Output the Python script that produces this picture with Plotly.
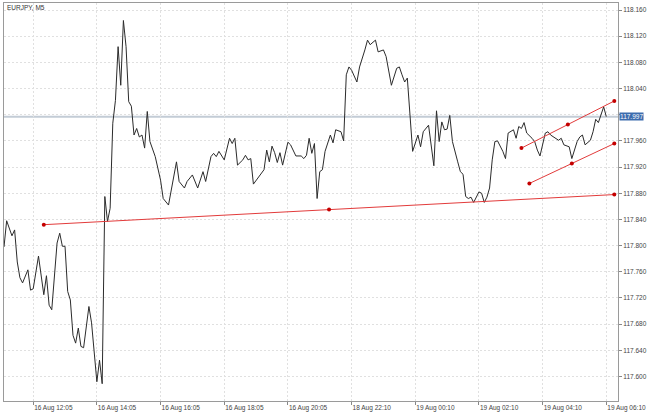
import plotly.graph_objects as go

# ---- data (bar index on MT4 ordinal time axis, close price) ----
bar = [0, 1, 3, 4, 5, 6, 7, 9, 10, 11, 13, 15, 16, 17, 18, 20, 21, 22, 23, 24,
       25, 26, 27, 28, 29, 30, 32, 33, 35, 36, 37, 38, 39, 40, 41, 42, 43, 44, 45, 46,
       47, 48, 49, 50, 51, 52, 53, 54, 55, 57, 59, 60, 62, 64, 65, 66, 68, 69, 70, 71,
       73, 75, 76, 78, 79, 80, 81, 83, 85, 86, 87, 88, 90, 91, 92, 93, 94, 96, 98, 99,
       100, 101, 102, 103, 104, 105, 107, 108, 110, 112, 113, 114, 115, 116, 117, 118, 119, 120, 121, 123,
       124, 125, 127, 128, 129, 130, 131, 133, 134, 136, 137, 138, 139, 140, 141, 143, 144, 146, 148, 149,
       150, 151, 152, 153, 154, 156, 157, 158, 160, 162, 163, 164, 165, 166, 167, 168, 169, 171, 172, 173,
       174, 175, 176, 177, 179, 180, 181, 182, 183, 184, 185, 186, 188, 189, 190, 192, 193, 194, 195, 196,
       197, 199, 200, 201, 202, 204, 205, 206, 207, 209, 210, 211, 213, 214, 216, 217, 218, 219, 221, 222,
       223, 224, 226, 227]
close = [117.798, 117.838, 117.815, 117.824, 117.775, 117.751, 117.743, 117.763, 117.732, 117.734,
         117.784, 117.725, 117.754, 117.709, 117.702, 117.804, 117.819, 117.799, 117.799, 117.730,
         117.717, 117.663, 117.651, 117.674, 117.646, 117.644, 117.707, 117.682, 117.592, 117.625,
         117.589, 117.875, 117.837, 117.857, 117.987, 118.022, 118.104, 118.045, 118.144, 118.104,
         118.020, 118.013, 117.969, 117.979, 117.966, 117.969, 117.949, 118.005, 117.959, 117.936,
         117.900, 117.872, 117.862, 117.903, 117.928, 117.898, 117.888, 117.898, 117.903, 117.908,
         117.888, 117.913, 117.898, 117.936, 117.941, 117.936, 117.944, 117.931, 117.964, 117.956,
         117.964, 117.923, 117.931, 117.938, 117.931, 117.933, 117.894, 117.905, 117.916, 117.946,
         117.928, 117.952, 117.942, 117.927, 117.942, 117.923, 117.958, 117.954, 117.937, 117.937,
         117.933, 117.938, 117.964, 117.941, 117.956, 117.872, 117.913, 117.916, 117.944, 117.969,
         117.957, 117.977, 117.974, 117.960, 118.061, 118.073, 118.068, 118.050, 118.073, 118.099,
         118.114, 118.107, 118.110, 118.114, 118.096, 118.099, 118.089, 118.045, 118.071, 118.073,
         118.061, 118.050, 118.056, 117.996, 117.944, 117.969, 117.951, 117.974, 117.984, 117.922,
         118.006, 117.959, 117.989, 117.977, 117.978, 117.999, 117.959, 117.928, 117.913, 117.909,
         117.875, 117.872, 117.874, 117.866, 117.882, 117.880, 117.866, 117.874, 117.888, 117.931,
         117.959, 117.960, 117.944, 117.933, 117.972, 117.977, 117.964, 117.982, 117.979, 117.988,
         117.972, 117.964, 117.959, 117.946, 117.937, 117.972, 117.974, 117.969, 117.966, 117.961,
         117.964, 117.954, 117.951, 117.933, 117.959, 117.966, 117.969, 117.954, 117.961, 117.974,
         117.993, 117.988, 118.012, 117.997]

last_price = 117.997

# trend lines: (start bar, end bar) and (start price, end price)
trend_bars = [[15, 230], [195, 230], [198, 230]]
trend_prices = [[117.832, 117.878], [117.949, 118.021], [117.895, 117.956]]

tick_bars = [11, 35, 59, 83, 107, 131, 155, 179, 203, 227]
tick_labels = ["16 Aug 12:05", "16 Aug 14:05", "16 Aug 16:05", "16 Aug 18:05",
               "16 Aug 20:05", "18 Aug 22:10", "19 Aug 00:10", "19 Aug 02:10",
               "19 Aug 04:10", "19 Aug 06:10"]

price_ticks = [117.600, 117.640, 117.680, 117.720, 117.760, 117.800, 117.840, 117.880,
               117.920, 117.960, 118.000, 118.040, 118.080, 118.120, 118.160]
price_tick_labels = ["117.600", "117.640", "117.680", "117.720", "117.760", "117.800",
                     "117.840", "117.880", "117.920", "117.960", "", "118.040",
                     "118.080", "118.120", "118.160"]

FONT = "Liberation Sans, Arial, sans-serif"
RED = "#e23b3b"
DOT = "#c40000"

fig = go.Figure()

fig.add_hline(y=last_price, line=dict(color="#c3ccd6", width=2), layer="below")

fig.add_trace(go.Scatter(x=bar, y=close, mode="lines",
                         line=dict(color="#2b2b2b", width=1), hoverinfo="skip",
                         showlegend=False))

for bx, py in zip(trend_bars, trend_prices):
    mid_b = (bx[0] + bx[1]) / 2
    mid_p = (py[0] + py[1]) / 2
    fig.add_trace(go.Scatter(x=[bx[0], mid_b, bx[1]], y=[py[0], mid_p, py[1]],
                             mode="lines+markers",
                             line=dict(color=RED, width=1),
                             marker=dict(color=DOT, size=4),
                             showlegend=False, hoverinfo="skip"))

fig.add_annotation(x=0, y=1, xref="paper", yref="paper", xanchor="left", yanchor="top",
                   xshift=1, yshift=1, text="EURJPY, M5", showarrow=False,
                   font=dict(family=FONT, size=6.5, color="#333333"))

fig.add_annotation(x=1, y=last_price, xref="paper", yref="y", xanchor="left", yanchor="middle",
                   xshift=1, text="117.997", showarrow=False, bgcolor="#3c6cae",
                   borderpad=0, font=dict(family=FONT, size=6.5, color="white"))

fig.update_layout(
    width=650, height=414,
    margin=dict(l=4, r=32, t=3, b=13, autoexpand=False),
    paper_bgcolor="white", plot_bgcolor="white",
    font=dict(family=FONT, size=6.5, color="#444444"),
    showlegend=False,
    xaxis=dict(range=[0, 231.4], tickmode="array", tickvals=tick_bars, ticktext=tick_labels,
               ticks="outside", ticklen=3, tickcolor="#888888",
               ticklabelposition="outside right",
               showgrid=True, gridcolor="#e0e0e0", griddash="2px,2px", gridwidth=1,
               showline=True, linecolor="#9a9a9a", linewidth=1, mirror=True,
               zeroline=False, automargin=False, tickfont=dict(size=6.5, color="#444444")),
    yaxis=dict(range=[117.5626, 118.1707], side="right", tickmode="array",
               tickvals=price_ticks, ticktext=price_tick_labels,
               ticks="outside", ticklen=3, tickcolor="#888888",
               showgrid=True, gridcolor="#e0e0e0", griddash="2px,2px", gridwidth=1,
               showline=True, linecolor="#9a9a9a", linewidth=1, mirror=True,
               zeroline=False, automargin=False, tickfont=dict(size=6.5, color="#444444")),
)

fig.write_html("out.html", config={"displayModeBar": False},
               post_script="document.body.style.margin='0';document.body.style.overflow='hidden';")
